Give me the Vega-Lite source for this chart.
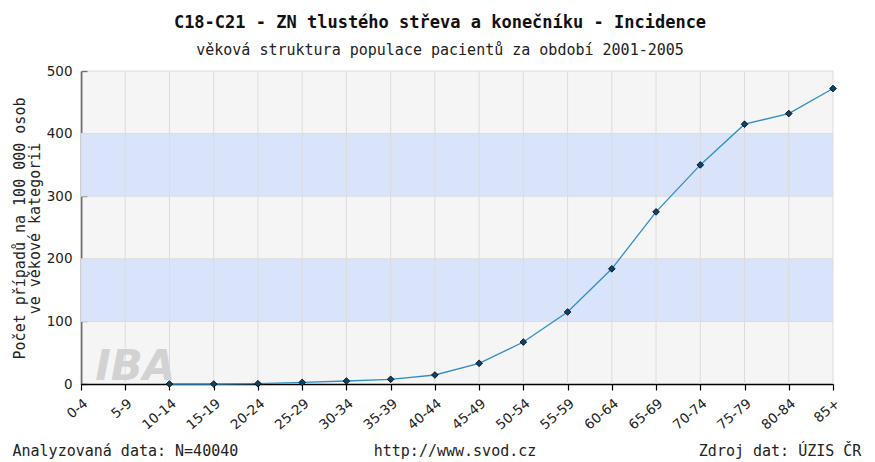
{
  "$schema": "https://vega.github.io/schema/vega-lite/v6.json",
  "width": 752,
  "height": 313,
  "autosize": {"type": "none"},
  "padding": {"left": 81, "top": 71, "right": 42, "bottom": 78},
  "background": "#ffffff",
  "config": {
    "view": {"fill": "#f5f5f5", "stroke": null}
  },
  "title": {
    "text": "C18-C21 - ZN tlustého střeva a konečníku - Incidence",
    "subtitle": "věková struktura populace pacientů za období 2001-2005",
    "anchor": "middle",
    "dx": -17,
    "offset": 5,
    "font": "DejaVu Sans Mono",
    "fontSize": 17,
    "fontWeight": "bold",
    "color": "#111111",
    "subtitleFont": "DejaVu Sans Mono",
    "subtitleFontSize": 15,
    "subtitleColor": "#222222",
    "subtitlePadding": 11
  },
  "datasets": {
    "ages": [
      {"age": "0-4", "value": null},
      {"age": "5-9", "value": null},
      {"age": "10-14", "value": 0},
      {"age": "15-19", "value": 0},
      {"age": "20-24", "value": 0.5},
      {"age": "25-29", "value": 2.5},
      {"age": "30-34", "value": 4.8},
      {"age": "35-39", "value": 7.5},
      {"age": "40-44", "value": 14.4},
      {"age": "45-49", "value": 33},
      {"age": "50-54", "value": 67},
      {"age": "55-59", "value": 115},
      {"age": "60-64", "value": 184},
      {"age": "65-69", "value": 275},
      {"age": "70-74", "value": 350},
      {"age": "75-79", "value": 415},
      {"age": "80-84", "value": 432},
      {"age": "85+", "value": 472}
    ],
    "bands": [
      {"from": 100, "to": 200},
      {"from": 300, "to": 400}
    ],
    "hlines": [
      {"value": 100}, {"value": 200}, {"value": 300}, {"value": 400}, {"value": 500}
    ],
    "watermark": [
      {"age": "5-9", "value": 0, "label": "IBA"}
    ]
  },
  "encoding": {
    "x": {
      "field": "age",
      "type": "ordinal",
      "sort": null,
      "scale": {"type": "point", "padding": 0, "domain": ["0-4","5-9","10-14","15-19","20-24","25-29","30-34","35-39","40-44","45-49","50-54","55-59","60-64","65-69","70-74","75-79","80-84","85+"]},
      "axis": {
        "title": "Analyzovaná data: N=40040\u00a0\u00a0\u00a0\u00a0\u00a0\u00a0\u00a0\u00a0\u00a0\u00a0\u00a0\u00a0\u00a0\u00a0\u00a0http://www.svod.cz\u00a0\u00a0\u00a0\u00a0\u00a0\u00a0\u00a0\u00a0\u00a0\u00a0\u00a0\u00a0\u00a0\u00a0\u00a0\u00a0\u00a0\u00a0Zdroj dat: ÚZIS ČR",
        "titleFont": "DejaVu Sans Mono",
        "titleFontSize": 15,
        "titleFontWeight": "normal",
        "titleColor": "#222222",
        "titleAlign": "left",
        "titleAnchor": "start",
        "titleX": -69,
        "titleY": 71,
        "titleBaseline": "alphabetic",
        "labelAngle": -40,
        "labelFont": "DejaVu Sans",
        "labelFontSize": 13.5,
        "labelColor": "#222222",
        "labelPadding": 6,
        "labelOverlap": false,
        "domainColor": "#000000",
        "domainWidth": 1.5,
        "tickColor": "#000000",
        "tickSize": 6,
        "tickWidth": 1.2,
        "grid": false
      }
    }
  },
  "layer": [
    {
      "data": {"name": "bands"},
      "mark": {"type": "rect", "color": "#d9e4fa"},
      "encoding": {
        "x": null,
        "y": {"field": "from", "type": "quantitative", "scale": {"domain": [0, 500]}},
        "y2": {"field": "to"}
      }
    },
    {
      "data": {"name": "hlines"},
      "mark": {"type": "rule", "color": "#dcdcdc", "strokeWidth": 1},
      "encoding": {
        "x": null,
        "y": {"field": "value", "type": "quantitative"}
      }
    },
    {
      "data": {"name": "ages"},
      "mark": {"type": "rule", "color": "#dcdcdc", "strokeWidth": 1},
      "encoding": {}
    },
    {
      "data": {"name": "watermark"},
      "mark": {"type": "text", "font": "DejaVu Sans", "fontSize": 42, "fontWeight": "bold", "fontStyle": "italic", "color": "#d2d2d2", "align": "center", "baseline": "alphabetic", "dx": 10, "dy": -4},
      "encoding": {
        "y": {"field": "value", "type": "quantitative"},
        "text": {"field": "label"}
      }
    },
    {
      "data": {"name": "ages"},
      "transform": [{"filter": "datum.value != null"}],
      "mark": {"type": "line", "color": "#2f8fc4", "strokeWidth": 1.3},
      "encoding": {
        "y": {
          "field": "value",
          "type": "quantitative",
          "scale": {"domain": [0, 500], "nice": false},
          "axis": {
            "values": [0, 50, 100, 150, 200, 250, 300, 350, 400, 450, 500],
            "labelExpr": "datum.value % 100 == 0 ? datum.label : ''",
            "title": ["Počet případů na 100 000 osob", "ve věkové kategorii"],
            "titleFont": "DejaVu Sans Mono",
            "titleFontSize": 15,
            "titleFontWeight": "normal",
            "titleColor": "#222222",
            "titleAngle": -90,
            "titleX": -62,
            "titleY": 157,
            "titleAlign": "center",
            "titleBaseline": "middle",
            "titleLineHeight": 15,
            "labelFont": "DejaVu Sans",
            "labelFontSize": 13.5,
            "labelColor": "#222222",
            "labelPadding": 15,
            "domainColor": "#000000",
            "domainWidth": 1.5,
            "tickColor": "#000000",
            "tickSize": -6,
            "tickWidth": 1.2,
            "grid": false
          }
        }
      }
    },
    {
      "data": {"name": "ages"},
      "transform": [{"filter": "datum.value != null"}],
      "mark": {"type": "point", "shape": "diamond", "filled": true, "fill": "#0b4468", "stroke": "#000000", "strokeWidth": 0.8, "size": 45, "opacity": 1},
      "encoding": {
        "y": {"field": "value", "type": "quantitative"}
      }
    }
  ],
  "resolve": {"scale": {"y": "shared"}}
}
